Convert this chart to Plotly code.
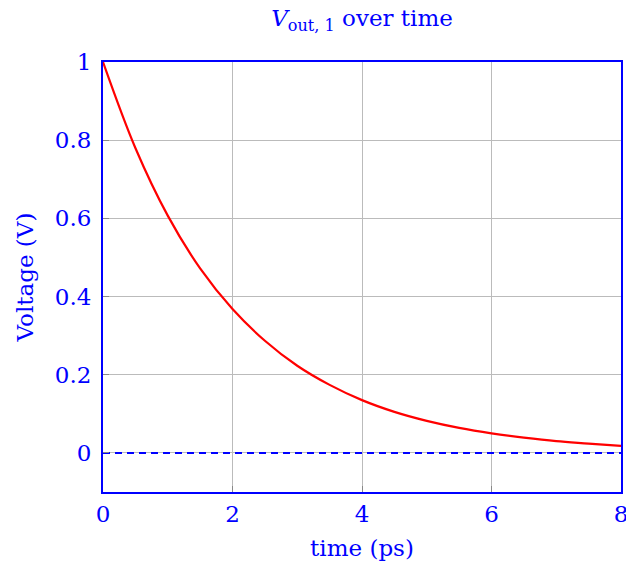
import plotly.graph_objects as go

time_ps = [0, 0.5, 1, 1.5, 2, 2.5, 3, 3.5, 4, 4.5, 5, 5.5, 6, 6.5, 7, 7.5, 8]
voltage = [1.0, 0.78, 0.607, 0.472, 0.368, 0.287, 0.223, 0.174, 0.135, 0.105, 0.082, 0.064, 0.050, 0.039, 0.030, 0.024, 0.018]
ref_t = [0, 8]
ref_v = [0, 0]
x_ticks = [0, 2, 4, 6, 8]
y_ticks = [0, 0.2, 0.4, 0.6, 0.8, 1]
y_labels = ["0", "0.2", "0.4", "0.6", "0.8", "1"]

BLUE = "#0000ff"
FONT = "DejaVu Serif"
FS = 23

fig = go.Figure()
fig.add_trace(go.Scatter(x=ref_t, y=ref_v, mode="lines",
                         line=dict(color=BLUE, width=2, dash="7px,5px"), showlegend=False))
fig.add_trace(go.Scatter(x=time_ps, y=voltage, mode="lines", line_shape="spline",
                         line=dict(color="#ff0000", width=2.2), showlegend=False))

fig.update_layout(
    width=626, height=570,
    margin=dict(l=103, r=5, t=62, b=78, autoexpand=False),
    paper_bgcolor="white", plot_bgcolor="white",
    font=dict(family=FONT, color=BLUE, size=FS),
    title=dict(text="<i>V</i><sub>out, 1</sub> over time", x=0.5, xanchor="center",
               xref="paper", yref="container", y=0.983, yanchor="top",
               font=dict(size=FS, color=BLUE, family=FONT)),
    xaxis=dict(range=[0, 8], tickvals=x_ticks, showgrid=True, gridcolor="#bbbbbb", gridwidth=1,
               zeroline=False, showline=True, linecolor=BLUE, linewidth=2, mirror=True,
               ticks="inside", ticklen=6, tickcolor="#888888", automargin=False,
               ticklabeloverflow="allow",
               title=dict(text="time (ps)", standoff=14, font=dict(size=FS, color=BLUE, family=FONT)),
               tickfont=dict(size=FS, color=BLUE, family=FONT)),
    yaxis=dict(range=[-0.1, 1], tickvals=y_ticks, ticktext=y_labels, showgrid=True, gridcolor="#bbbbbb",
               gridwidth=1, zeroline=False, showline=True, linecolor=BLUE, linewidth=2, mirror=True,
               ticks="inside", ticklen=6, tickcolor="#888888", automargin=False,
               ticklabeloverflow="allow", ticklabelstandoff=5,
               title=dict(text="Voltage (V)", standoff=15, font=dict(size=FS, color=BLUE, family=FONT)),
               tickfont=dict(size=FS, color=BLUE, family=FONT)),
)

fig.write_html("out.html", config={"displayModeBar": False})

with open("out.html", "r", encoding="utf-8") as f:
    html = f.read()
html = html.replace("<head>", "<head><style>html,body{margin:0;padding:0;overflow:hidden;}</style>", 1)
with open("out.html", "w", encoding="utf-8") as f:
    f.write(html)
